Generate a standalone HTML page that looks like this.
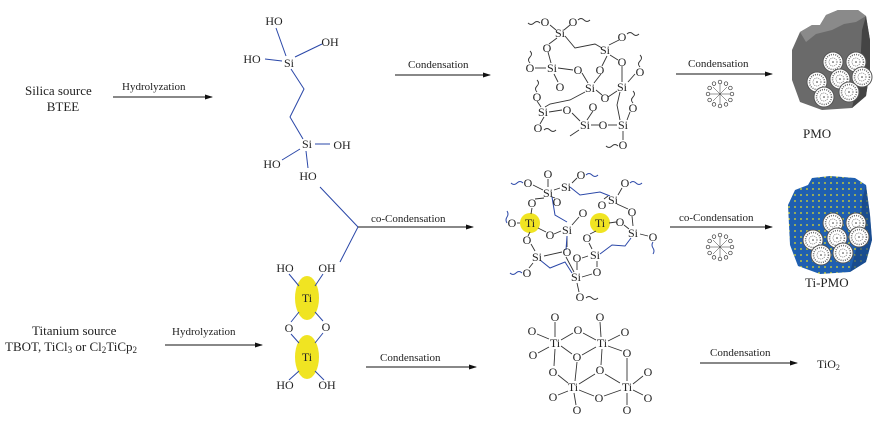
<!DOCTYPE html>
<html><head><meta charset="utf-8"><style>
html,body{margin:0;padding:0;background:#fff;}
svg{display:block;font-family:"Liberation Serif","Times New Roman",serif;}
text{font-family:"Liberation Serif","Times New Roman",serif;fill:#222;}
.a{font-size:12px;text-anchor:middle;dominant-baseline:central;}
.l{font-size:11px;}
.b{stroke:#333;stroke-width:0.9;fill:none;}
.bl{stroke:#2a47a8;stroke-width:1;fill:none;}
.ar{stroke:#111;stroke-width:1;}
</style></head><body>
<svg width="878" height="439" viewBox="0 0 878 439" xmlns="http://www.w3.org/2000/svg" font-family="Liberation Serif, serif">
<defs>
<marker id="m" markerWidth="8" markerHeight="6" refX="7" refY="3" orient="auto" markerUnits="userSpaceOnUse"><path d="M0,0.5 L8,3 L0,5.5 Z" fill="#111"/></marker>
<pattern id="dots" width="6" height="6" patternUnits="userSpaceOnUse"><rect width="6" height="6" fill="#1f5fb0"/><circle cx="3" cy="3" r="0.9" fill="#e8e020"/></pattern>
<g id="pore"><circle r="10" fill="#fff" stroke="#555" stroke-width="1"/><circle r="7.5" fill="none" stroke="#666" stroke-width="1.5" stroke-dasharray="1 1.2"/><circle r="4" fill="none" stroke="#888" stroke-width="1" stroke-dasharray="1 1"/><circle r="0.8" fill="#333"/></g>
<g id="mic"><g fill="#fff" stroke="#333" stroke-width="0.7">
<circle cx="0" cy="-12" r="1.8"/><circle cx="6" cy="-10.4" r="1.8"/><circle cx="10.4" cy="-6" r="1.8"/><circle cx="12" cy="0" r="1.8"/><circle cx="10.4" cy="6" r="1.8"/><circle cx="6" cy="10.4" r="1.8"/><circle cx="0" cy="12" r="1.8"/><circle cx="-6" cy="10.4" r="1.8"/><circle cx="-10.4" cy="6" r="1.8"/><circle cx="-12" cy="0" r="1.8"/><circle cx="-10.4" cy="-6" r="1.8"/><circle cx="-6" cy="-10.4" r="1.8"/></g>
<g stroke="#333" stroke-width="0.5"><line x1="0" y1="-10" x2="0" y2="10"/><line x1="-10" y1="0" x2="10" y2="0"/><line x1="-7" y1="-7" x2="7" y2="7"/><line x1="-7" y1="7" x2="7" y2="-7"/></g></g>
</defs>

<text x="25" y="95" style="font-size:13px">Silica source</text>
<text x="63" y="111" style="font-size:13px;text-anchor:middle">BTEE</text>
<text x="122" y="90" class="l">Hydrolyzation</text>
<line x1="113" y1="97" x2="212" y2="97" class="ar" marker-end="url(#m)"/>

<text x="32" y="335" style="font-size:13px">Titanium source</text>
<text x="5" y="351" style="font-size:13px">TBOT, TiCl<tspan font-size="9" dy="2">3</tspan><tspan dy="-2"> or Cl</tspan><tspan font-size="9" dy="2">2</tspan><tspan dy="-2">TiCp</tspan><tspan font-size="9" dy="2">2</tspan></text>
<text x="172" y="335" class="l">Hydrolyzation</text>
<line x1="165" y1="345" x2="262" y2="345" class="ar" marker-end="url(#m)"/>

<g class="bl">
<line x1="276" y1="28" x2="286" y2="56"/><line x1="322" y1="44" x2="295" y2="57"/><line x1="265" y1="59" x2="282" y2="61"/>
<polyline points="291,69 304,89 290,117 303,139"/>
<line x1="315" y1="144" x2="330" y2="144"/><line x1="300" y1="149" x2="282" y2="160"/><line x1="306" y1="151" x2="308" y2="168"/>
<polyline points="320,187 358,227 340,262"/>
</g>
<text class="a" x="274" y="21">HO</text><text class="a" x="330" y="42">OH</text><text class="a" x="252" y="59">HO</text><text class="a" x="289" y="63">Si</text>
<text class="a" x="307" y="144">Si</text><text class="a" x="342" y="145">OH</text><text class="a" x="272" y="164">HO</text><text class="a" x="308" y="176">HO</text>

<ellipse cx="307" cy="298" rx="12" ry="22" fill="#f0e422"/>
<ellipse cx="307" cy="357" rx="12" ry="22" fill="#f0e422"/>
<g class="bl"><line x1="289" y1="274" x2="299" y2="286"/><line x1="323" y1="274" x2="315" y2="286"/>
<line x1="299" y1="312" x2="291" y2="322"/><line x1="315" y1="312" x2="323" y2="321"/>
<line x1="291" y1="334" x2="299" y2="343"/><line x1="323" y1="333" x2="315" y2="343"/>
<line x1="299" y1="371" x2="289" y2="380"/><line x1="315" y1="371" x2="324" y2="380"/></g>
<text class="a" x="285" y="268">HO</text><text class="a" x="327" y="268">OH</text><text class="a" x="307" y="298">Ti</text>
<text class="a" x="289" y="328">O</text><text class="a" x="326" y="327">O</text><text class="a" x="307" y="357">Ti</text>
<text class="a" x="285" y="385">HO</text><text class="a" x="327" y="385">OH</text>

<text x="408" y="68" class="l">Condensation</text>
<line x1="395" y1="75" x2="490" y2="75" class="ar" marker-end="url(#m)"/>
<text x="371" y="222" class="l">co-Condensation</text>
<line x1="358" y1="227" x2="473" y2="227" class="ar" marker-end="url(#m)"/>
<text x="380" y="361" class="l">Condensation</text>
<line x1="366" y1="367" x2="476" y2="367" class="ar" marker-end="url(#m)"/>

<g class="b">
<line x1="550" y1="25" x2="556" y2="30"/><line x1="570" y1="25" x2="564" y2="30"/><line x1="557" y1="38" x2="549" y2="44"/>
<polyline points="565,36 575,48 595,44 602,48"/><line x1="609" y1="45" x2="619" y2="40"/><line x1="607" y1="56" x2="602" y2="66"/><line x1="610" y1="55" x2="618" y2="60"/>
<line x1="548" y1="52" x2="551" y2="63"/><line x1="535" y1="68" x2="546" y2="68"/><line x1="558" y1="68" x2="573" y2="70"/><line x1="554" y1="74" x2="558" y2="82"/>
<line x1="601" y1="74" x2="594" y2="83"/><line x1="582" y1="73" x2="588" y2="83"/><line x1="622" y1="66" x2="622" y2="82"/><line x1="635" y1="74" x2="628" y2="82"/>
<line x1="596" y1="90" x2="602" y2="95"/><line x1="608" y1="97" x2="617" y2="91"/><polyline points="585,92 570,100 550,104 545,107"/>
<line x1="537" y1="101" x2="541" y2="107"/><line x1="549" y1="112" x2="562" y2="110"/><line x1="572" y1="113" x2="580" y2="121"/><line x1="593" y1="111" x2="587" y2="120"/>
<polyline points="620,92 617,105 620,120"/><line x1="630" y1="112" x2="627" y2="120"/><line x1="591" y1="125" x2="599" y2="125"/><line x1="608" y1="125" x2="617" y2="125"/>
<line x1="544" y1="117" x2="540" y2="124"/><line x1="579" y1="130" x2="570" y2="136"/><line x1="623" y1="131" x2="623" y2="140"/>
<path d="M540,23 q-3,-3 -6,0 t-6,0" /><path d="M578,20 q3,-3 6,0 t6,0"/><path d="M627,34 q3,-3 6,0 t6,0"/><path d="M530,63 q-3,-3 0,-6 t0,-6"/><path d="M640,67 q-3,-3 0,-6 t0,-6"/><path d="M537,92 q-3,-3 0,-6 t0,-6"/><path d="M633,103 q-3,-3 0,-6 t0,-6"/><path d="M544,130 q3,-3 6,0 t6,0"/><path d="M618,146 q-3,-3 -6,0 t-6,0"/>
</g>
<g>
<text class="a" x="545" y="22">O</text><text class="a" x="573" y="22">O</text><text class="a" x="560" y="33">Si</text><text class="a" x="605" y="50">Si</text><text class="a" x="622" y="37">O</text>
<text class="a" x="547" y="48">O</text><text class="a" x="552" y="68">Si</text><text class="a" x="530" y="68">O</text><text class="a" x="578" y="70">O</text><text class="a" x="600" y="70">O</text>
<text class="a" x="622" y="62">O</text><text class="a" x="640" y="72">O</text><text class="a" x="560" y="87">O</text><text class="a" x="590" y="88">Si</text><text class="a" x="622" y="87">Si</text>
<text class="a" x="605" y="98">O</text><text class="a" x="537" y="97">O</text><text class="a" x="543" y="112">Si</text><text class="a" x="567" y="110">O</text><text class="a" x="593" y="107">O</text>
<text class="a" x="633" y="108">O</text><text class="a" x="585" y="125">Si</text><text class="a" x="603" y="125">O</text><text class="a" x="623" y="125">Si</text><text class="a" x="538" y="128">O</text><text class="a" x="623" y="145">O</text>
</g>

<circle cx="530" cy="223" r="10" fill="#f0e422"/><circle cx="600" cy="223" r="10" fill="#f0e422"/>
<g class="b">
<line x1="548" y1="179" x2="548" y2="187"/><line x1="533" y1="185" x2="543" y2="190"/><line x1="552" y1="197" x2="555" y2="198"/><line x1="554" y1="190" x2="560" y2="188"/>
<line x1="572" y1="183" x2="577" y2="178"/><line x1="544" y1="198" x2="535" y2="199"/><line x1="532" y1="208" x2="531" y2="214"/><line x1="517" y1="223" x2="520" y2="223"/>
<line x1="538" y1="228" x2="546" y2="232"/><line x1="554" y1="234" x2="561" y2="231"/><line x1="572" y1="225" x2="579" y2="217"/><line x1="567" y1="236" x2="567" y2="247"/>
<line x1="608" y1="196" x2="604" y2="199"/><line x1="618" y1="195" x2="622" y2="188"/><line x1="617" y1="204" x2="628" y2="209"/><line x1="609" y1="223" x2="616" y2="222"/>
<line x1="624" y1="225" x2="629" y2="229"/><line x1="632" y1="216" x2="633" y2="226"/><line x1="640" y1="234" x2="648" y2="236"/>
<line x1="530" y1="232" x2="528" y2="236"/><line x1="531" y1="244" x2="535" y2="251"/><line x1="544" y1="256" x2="562" y2="252"/><line x1="533" y1="263" x2="529" y2="268"/>
<line x1="596" y1="231" x2="590" y2="234"/><line x1="589" y1="243" x2="592" y2="249"/><line x1="588" y1="256" x2="582" y2="258"/><line x1="597" y1="261" x2="597" y2="267"/>
<line x1="577" y1="262" x2="577" y2="270"/><line x1="582" y1="277" x2="592" y2="274"/><line x1="577" y1="283" x2="579" y2="292"/>
<line x1="566" y1="257" x2="574" y2="272"/>
</g>
<g class="bl">
<polyline points="552,197 555,215 567,222"/><polyline points="570,187 580,195 600,192 610,196"/><polyline points="567,236 566,250"/>
<polyline points="540,260 550,268 565,262 572,273"/><polyline points="600,254 612,245 625,246 631,238"/>
<path d="M523,183 q-3,-3 -6,0 t-6,0"/><path d="M586,175 q3,-3 6,0 t6,0"/><path d="M630,183 q3,-3 6,0 t6,0"/><path d="M507,223 q-2,-3 0,-6 t0,-6"/><path d="M653,242 q-2,3 0,6 t0,6"/><path d="M522,273 q-3,-3 -6,0 t-6,0"/>
</g>
<path d="M586,298 q3,-3 6,0 t6,0" class="b"/>
<g>
<text class="a" x="548" y="174">O</text><text class="a" x="528" y="183">O</text><text class="a" x="548" y="193">Si</text><text class="a" x="566" y="187">Si</text><text class="a" x="581" y="175">O</text>
<text class="a" x="625" y="183">O</text><text class="a" x="557" y="202">O</text><text class="a" x="613" y="200">Si</text><text class="a" x="532" y="203">O</text><text class="a" x="602" y="205">O</text>
<text class="a" x="632" y="212">O</text><text class="a" x="530" y="223">Ti</text><text class="a" x="512" y="223">O</text><text class="a" x="583" y="213">O</text><text class="a" x="600" y="223">Ti</text>
<text class="a" x="620" y="222">O</text><text class="a" x="550" y="235">O</text><text class="a" x="567" y="230">Si</text><text class="a" x="633" y="233">Si</text><text class="a" x="653" y="237">O</text>
<text class="a" x="587" y="238">O</text><text class="a" x="527" y="240">O</text><text class="a" x="537" y="257">Si</text><text class="a" x="567" y="252">O</text><text class="a" x="577" y="258">O</text>
<text class="a" x="595" y="255">Si</text><text class="a" x="527" y="273">O</text><text class="a" x="597" y="272">O</text><text class="a" x="576" y="277">Si</text><text class="a" x="580" y="297">O</text>
</g>

<g class="b">
<line x1="555" y1="322" x2="555" y2="337"/><line x1="600" y1="322" x2="601" y2="337"/><line x1="537" y1="334" x2="549" y2="339"/><line x1="561" y1="340" x2="573" y2="333"/>
<line x1="583" y1="333" x2="596" y2="340"/><line x1="608" y1="341" x2="620" y2="335"/><line x1="549" y1="347" x2="538" y2="353"/><line x1="561" y1="346" x2="572" y2="354"/>
<line x1="596" y1="347" x2="582" y2="355"/><line x1="608" y1="346" x2="622" y2="351"/><line x1="555" y1="349" x2="554" y2="366"/><line x1="602" y1="349" x2="601" y2="365"/>
<line x1="577" y1="362" x2="575" y2="381"/><line x1="627" y1="358" x2="627" y2="381"/><line x1="558" y1="375" x2="568" y2="383"/><line x1="579" y1="384" x2="595" y2="374"/>
<line x1="605" y1="374" x2="620" y2="383"/><line x1="633" y1="384" x2="643" y2="376"/><line x1="568" y1="391" x2="558" y2="395"/><line x1="579" y1="390" x2="594" y2="396"/>
<line x1="621" y1="390" x2="604" y2="396"/><line x1="633" y1="390" x2="643" y2="395"/><line x1="574" y1="393" x2="576" y2="405"/><line x1="627" y1="393" x2="627" y2="405"/>
</g>
<g>
<text class="a" x="555" y="317">O</text><text class="a" x="600" y="317">O</text><text class="a" x="532" y="331">O</text><text class="a" x="578" y="330">O</text><text class="a" x="625" y="332">O</text>
<text class="a" x="555" y="343">Ti</text><text class="a" x="602" y="343">Ti</text><text class="a" x="533" y="355">O</text><text class="a" x="577" y="357">O</text><text class="a" x="627" y="353">O</text>
<text class="a" x="553" y="372">O</text><text class="a" x="600" y="370">O</text><text class="a" x="648" y="372">O</text><text class="a" x="573" y="387">Ti</text><text class="a" x="627" y="387">Ti</text>
<text class="a" x="553" y="397">O</text><text class="a" x="599" y="398">O</text><text class="a" x="648" y="398">O</text><text class="a" x="577" y="410">O</text><text class="a" x="627" y="410">O</text>
</g>

<text x="688" y="67" class="l">Condensation</text>
<line x1="676" y1="74" x2="772" y2="74" class="ar" marker-end="url(#m)"/>
<use href="#mic" x="720" y="94"/>
<text x="679" y="221" class="l">co-Condensation</text>
<line x1="670" y1="227" x2="772" y2="227" class="ar" marker-end="url(#m)"/>
<use href="#mic" x="720" y="247"/>
<text x="710" y="356" class="l">Condensation</text>
<line x1="700" y1="363" x2="797" y2="363" class="ar" marker-end="url(#m)"/>
<text x="817" y="368" style="font-size:12px">TiO<tspan font-size="8" dy="2">2</tspan></text>

<!-- PMO -->
<polygon points="792,50 800,32 812,25 820,25 826,15 838,10 858,10 866,16 870,40 870,70 866,96 852,108 822,110 800,102 792,80" fill="#6a6a6a"/>
<polygon points="800,32 812,25 820,25 826,15 838,10 858,10 866,16 856,22 844,24 832,30 816,34 806,42" fill="#8a8a8a"/>
<polygon points="866,16 870,40 870,70 866,96 852,108 860,70 862,30" fill="#444"/>
<use href="#pore" x="833" y="62"/><use href="#pore" x="856" y="62"/><use href="#pore" x="817" y="82"/><use href="#pore" x="840" y="79"/><use href="#pore" x="862" y="77"/><use href="#pore" x="824" y="97"/><use href="#pore" x="849" y="92"/>
<text x="803" y="138" style="font-size:13px">PMO</text>

<!-- Ti-PMO -->
<polygon points="788,205 795,190 808,185 812,178 830,176 855,178 866,185 870,215 872,240 866,262 850,272 820,274 798,266 790,245" fill="url(#dots)"/>
<polygon points="866,185 870,215 872,240 866,262 850,272 860,235 862,200" fill="#16407a" opacity="0.6"/>
<use href="#pore" x="833" y="223"/><use href="#pore" x="856" y="223"/><use href="#pore" x="813" y="240"/><use href="#pore" x="837" y="238"/><use href="#pore" x="859" y="237"/><use href="#pore" x="821" y="255"/><use href="#pore" x="843" y="253"/>
<text x="805" y="287" style="font-size:13px">Ti-PMO</text>
</svg>
</body></html>
